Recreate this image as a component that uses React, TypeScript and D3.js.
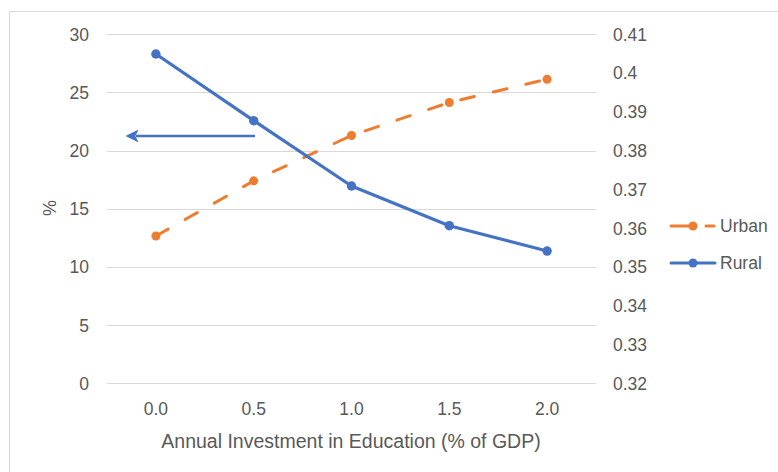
import React from "react";
import * as d3 from "d3";

const categories = ["0.0", "0.5", "1.0", "1.5", "2.0"];
const ruralValues = [28.3, 22.57, 16.96, 13.55, 11.37];
const urbanValues = [0.358, 0.3722, 0.3839, 0.3924, 0.3984];
const leftTicks = [0, 5, 10, 15, 20, 25, 30];
const rightTicks = [0.32, 0.33, 0.34, 0.35, 0.36, 0.37, 0.38, 0.39, 0.4, 0.41];
const xTitle = "Annual Investment in Education (% of GDP)";
const yTitle = "%";
const seriesNames = ["Urban", "Rural"];

const W = 778;
const H = 472;
const BLUE = "#4472C4";
const ORANGE = "#ED7D31";
const TEXT = "#595959";
const GRID = "#d9d9d9";
const FONT = "'Liberation Sans', Arial, sans-serif";

export default function App() {
  const left = 107;
  const right = 596;
  const top = 34.2;
  const bottom = 383.4;

  const x = d3.scaleBand<string>().domain(categories).range([left, right]);
  const cx = (c: string) => (x(c) as number) + x.bandwidth() / 2;
  const yL = d3.scaleLinear().domain([0, 30]).range([bottom, top]);
  const yR = d3.scaleLinear().domain([0.32, 0.41]).range([bottom, top]);

  const ruralLine = d3
    .line<number>()
    .x((_, i) => cx(categories[i]))
    .y((d) => yL(d))(ruralValues) as string;
  const urbanLine = d3
    .line<number>()
    .x((_, i) => cx(categories[i]))
    .y((d) => yR(d))(urbanValues) as string;

  const fmtR = d3.format("~g");
  const arrowY = 136;
  const fs = 17.5;

  return (
    <div style={{ position: "absolute", left: 0, top: 0 }}>
      <svg width={W} height={H} style={{ display: "block", background: "#fff" }}>
        <defs>
          <marker
            id="arrowhead"
            viewBox="0 0 10 10"
            refX="2"
            refY="5"
            markerWidth="5"
            markerHeight="5"
            orient="auto-start-reverse"
            markerUnits="strokeWidth"
          >
            <path d="M0,0 L10,5 L0,10 L2.5,5 Z" fill={BLUE} />
          </marker>
        </defs>
        <rect x={9.5} y={11.5} width={900} height={600} fill="none" stroke={GRID} strokeWidth={1} />

        {leftTicks.map((t) => (
          <line key={"g" + t} x1={left} x2={right} y1={Math.round(yL(t)) + 0.5} y2={Math.round(yL(t)) + 0.5} stroke={GRID} strokeWidth={1} />
        ))}

        {leftTicks.map((t) => (
          <text key={"l" + t} x={89} y={yL(t)} dy="0.36em" textAnchor="end" fontFamily={FONT} fontSize={fs} fill={TEXT}>
            {t}
          </text>
        ))}
        {rightTicks.map((t) => (
          <text key={"r" + t} x={613} y={yR(t)} dy="0.36em" textAnchor="start" fontFamily={FONT} fontSize={fs} fill={TEXT}>
            {fmtR(t)}
          </text>
        ))}
        {categories.map((c) => (
          <text key={"x" + c} x={cx(c)} y={415} textAnchor="middle" fontFamily={FONT} fontSize={fs} fill={TEXT}>
            {c}
          </text>
        ))}
        <text x={351} y={448} textAnchor="middle" fontFamily={FONT} fontSize={19.5} fill={TEXT}>
          {xTitle}
        </text>
        <text transform="translate(50,208) rotate(-90)" textAnchor="middle" dy="0.36em" fontFamily={FONT} fontSize={18} fill={TEXT}>
          {yTitle}
        </text>

        <path d={urbanLine} fill="none" stroke={ORANGE} strokeWidth={3} strokeDasharray="14 19.5" strokeLinecap="round" />
        {urbanValues.map((v, i) => (
          <circle key={"u" + i} cx={cx(categories[i])} cy={yR(v)} r={4.5} fill={ORANGE} />
        ))}
        <path d={ruralLine} fill="none" stroke={BLUE} strokeWidth={3.2} strokeLinejoin="round" strokeLinecap="round" />
        {ruralValues.map((v, i) => (
          <circle key={"ru" + i} cx={cx(categories[i])} cy={yL(v)} r={4.7} fill={BLUE} />
        ))}

        <line x1={255} x2={136} y1={arrowY} y2={arrowY} stroke={BLUE} strokeWidth={2.6} markerEnd="url(#arrowhead)" />

        {/* legend */}
        <g>
          <line x1={671} x2={693} y1={226} y2={226} stroke={ORANGE} strokeWidth={3} strokeLinecap="round" />
          <line x1={706} x2={714} y1={226} y2={226} stroke={ORANGE} strokeWidth={3} strokeLinecap="round" />
          <circle cx={693} cy={226} r={4.5} fill={ORANGE} />
          <text x={720} y={226} dy="0.36em" fontFamily={FONT} fontSize={fs} fill={TEXT}>
            {seriesNames[0]}
          </text>
          <line x1={671} x2={715} y1={263} y2={263} stroke={BLUE} strokeWidth={3} strokeLinecap="round" />
          <circle cx={693} cy={263} r={4.5} fill={BLUE} />
          <text x={720} y={263} dy="0.36em" fontFamily={FONT} fontSize={fs} fill={TEXT}>
            {seriesNames[1]}
          </text>
        </g>
      </svg>
    </div>
  );
}
